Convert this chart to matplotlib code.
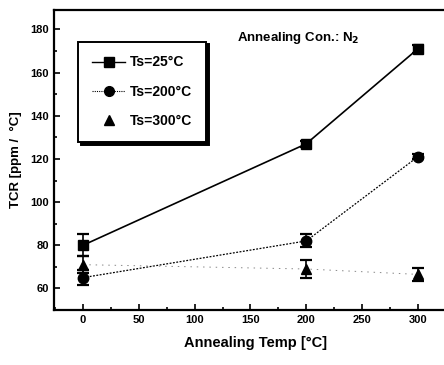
import matplotlib
matplotlib.use("Agg")
import matplotlib.pyplot as plt
from matplotlib.lines import Line2D
from matplotlib.ticker import MultipleLocator

plt.rcParams['font.family'] = ['Liberation Sans', 'DejaVu Sans']
plt.rcParams['font.weight'] = 'bold'

# annealing temperature (x) and TCR values for each deposition temperature
anneal_temp = [0, 200, 300]
tcr_25 = [80, 127, 171]
err_25 = [5, 1.5, 2]
tcr_200 = [65, 82, 121]
err_200 = [3.5, 3, 1.2]
tcr_300 = [71, 69, 66.5]
err_300 = [4, 4, 3]
labels = ['Ts=25°C', 'Ts=200°C', 'Ts=300°C']

fig = plt.figure(figsize=(4.44, 3.65), dpi=100)
# frame runs past the right edge of the figure
ax = fig.add_axes([54 / 444, 1 - 310 / 365, (458 - 54) / 444, (310 - 10) / 365])

kw = dict(color='black', capsize=4, elinewidth=1.2, capthick=1.6, markersize=7.5)
ax.errorbar(anneal_temp, tcr_25, yerr=err_25, marker='s', linestyle='-',
            linewidth=1.2, **kw)
ax.errorbar(anneal_temp, tcr_200, yerr=err_200, marker='o', linestyle=(0, (1.5, 1.2)),
            linewidth=0.9, **kw)
l3 = ax.errorbar(anneal_temp, tcr_300, yerr=err_300, marker='^', linestyle=(0, (1.5, 5)),
                 linewidth=0.7, **kw)
l3.lines[0].set_color('#888888')
l3.lines[0].set_markerfacecolor('black')
l3.lines[0].set_markeredgecolor('black')

ax.set_xlim(-26, 336)
ax.set_ylim(50, 189)
ax.xaxis.set_major_locator(MultipleLocator(50))
ax.xaxis.set_minor_locator(MultipleLocator(25))
ax.yaxis.set_major_locator(MultipleLocator(20))
ax.yaxis.set_minor_locator(MultipleLocator(10))
ax.tick_params(which='both', direction='in', top=False, right=False,
               labelsize=8, width=1.2)
ax.tick_params(which='major', length=4)
ax.tick_params(which='minor', length=2)
for s in ax.spines.values():
    s.set_linewidth(1.6)

ax.set_xlabel('Annealing Temp [°C]', fontsize=10.5, fontweight='bold', labelpad=8)
ax.set_ylabel('TCR [ppm /  °C]', fontsize=9.5, fontweight='bold', labelpad=6)

ax.text(138, 176, 'Annealing Con.: N$_2$', fontsize=9.5, fontweight='bold',
        va='center')

# legend shows marker + line only, no error bars
handles = [
    Line2D([], [], color='black', marker='s', markersize=7, linewidth=1.0),
    Line2D([], [], color='black', marker='o', markersize=7, linewidth=0.8,
           linestyle=(0, (1, 1))),
    Line2D([], [], color='black', marker='^', markersize=7, linestyle='none'),
]
leg = ax.legend(handles, labels, loc='upper left', bbox_to_anchor=(0.06, 0.895),
                fontsize=10, frameon=True, fancybox=False,
                shadow={'color': 'black', 'alpha': 1.0},
                handlelength=2.4, borderpad=1.0, labelspacing=1.1,
                handletextpad=0.3, borderaxespad=0)
leg.get_frame().set_edgecolor('black')
leg.get_frame().set_linewidth(1.4)
leg.get_frame().set_facecolor('white')

fig.savefig('out.png', dpi=100)
